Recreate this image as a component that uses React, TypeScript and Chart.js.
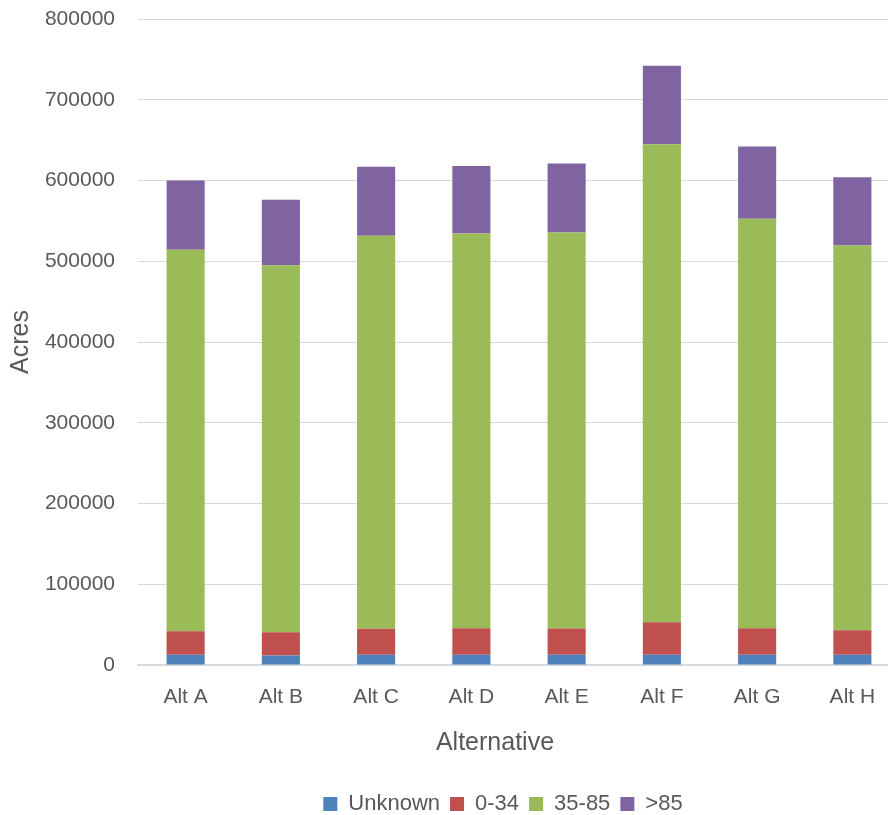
import React, { useEffect, useRef } from "react";
import { Chart, registerables } from "chart.js";

Chart.register(...registerables);

// ---- Data ----
const categories = ["Alt A", "Alt B", "Alt C", "Alt D", "Alt E", "Alt F", "Alt G", "Alt H"];
const unknownAcres = [12600, 11800, 12600, 12600, 12600, 12600, 12600, 12600];
const acres0to34 = [29200, 28800, 32200, 32900, 32550, 40300, 32900, 30400];
const acres35to85 = [472400, 454600, 486700, 488900, 490450, 592000, 507000, 476500];
const acresOver85 = [85800, 80900, 85400, 83700, 85400, 97300, 89500, 84500];
const seriesLabels = ["Unknown", "0-34", "35-85", ">85"];
const yMin = 0;
const yMax = 800000;
const yStep = 100000;
const xAxisTitle = "Alternative";
const yAxisTitle = "Acres";

const FONT = '"Liberation Sans", Arial, sans-serif';
const TEXT = "#595959";
const GRID = "#D9D9D9";

const xTitlePlugin = {
  id: "xTitlePlugin",
  afterDraw(chart: any) {
    const ctx = chart.ctx;
    ctx.save();
    ctx.font = `25px ${FONT}`;
    ctx.fillStyle = TEXT;
    ctx.textAlign = "center";
    ctx.textBaseline = "middle";
    ctx.fillText(xAxisTitle, 495, 743);
    ctx.restore();
  },
};

export default function App() {
  const ref = useRef<HTMLCanvasElement | null>(null);

  useEffect(() => {
    if (!ref.current) return;
    const chart = new Chart(ref.current, {
      type: "bar",
      data: {
        labels: categories,
        datasets: [
          { label: seriesLabels[0], data: unknownAcres, backgroundColor: "#4F81BD", borderWidth: 0 },
          { label: seriesLabels[1], data: acres0to34, backgroundColor: "#C0504D", borderWidth: 0 },
          { label: seriesLabels[2], data: acres35to85, backgroundColor: "#9BBB59", borderWidth: 0 },
          { label: seriesLabels[3], data: acresOver85, backgroundColor: "#8064A2", borderWidth: 0 },
        ],
      },
      plugins: [xTitlePlugin],
      options: {
        responsive: false,
        animation: false,
        devicePixelRatio: 1,
        layout: { padding: { top: 19, left: 0, right: 0, bottom: 15 } },
        datasets: { bar: { categoryPercentage: 1, barPercentage: 0.4 } },
        plugins: {
          tooltip: { enabled: false },
          legend: {
            position: "bottom",
            labels: {
              boxWidth: 14,
              boxHeight: 14,
              padding: 10,
              color: TEXT,
              font: { family: FONT, size: 22 },
            },
          },
        },
        scales: {
          x: {
            stacked: true,
            grid: { display: false, drawTicks: false },
            border: { display: true, color: GRID, width: 1.5 },
            ticks: { color: TEXT, font: { family: FONT, size: 21 }, padding: 20, maxRotation: 0 },
            afterFit: (s: any) => {
              s.height = 118;
            },
          },
          y: {
            stacked: true,
            min: yMin,
            max: yMax,
            grid: {
              color: GRID,
              lineWidth: 1,
              drawTicks: true,
              tickLength: 23,
              tickColor: "rgba(0,0,0,0)",
            },
            border: { display: false },
            ticks: {
              stepSize: yStep,
              color: TEXT,
              padding: 0,
              font: { family: FONT, size: 21 },
              callback: (v: any) => String(v),
            },
            title: {
              display: true,
              text: yAxisTitle,
              color: TEXT,
              font: { family: FONT, size: 25 },
              padding: { top: 6, bottom: 0 },
            },
            afterFit: (s: any) => {
              s.width = 138;
            },
          },
          spacer: {
            type: "linear",
            position: "right",
            display: true,
            grid: { display: false, drawTicks: false },
            border: { display: false },
            ticks: { display: false },
            afterFit: (s: any) => {
              s.width = 106;
            },
          },
        },
      },
    } as any);
    return () => chart.destroy();
  }, []);

  return (
    <div
      style={{
        position: "fixed",
        left: 0,
        top: 0,
        width: 888,
        height: 815,
        overflow: "hidden",
        background: "#ffffff",
      }}
    >
      <canvas ref={ref} width={1006} height={840} />
    </div>
  );
}
